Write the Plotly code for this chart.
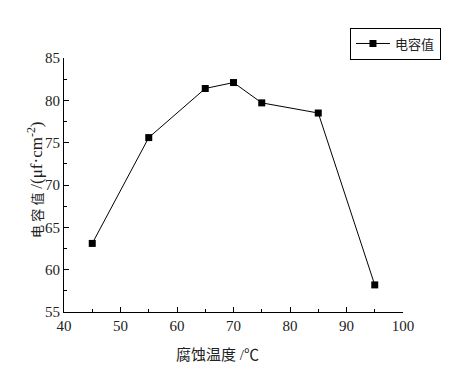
import plotly.graph_objects as go

temps = [45, 55, 65, 70, 75, 85, 95]
capacitance = [63.1, 75.6, 81.4, 82.1, 79.7, 78.5, 58.2]
x_ticks = [40, 50, 60, 70, 80, 90, 100]
y_ticks = [55, 60, 65, 70, 75, 80, 85]
x_title = "腐蚀温度 /℃"
y_title = ("<span style='font-size:13px'>电 容 值</span>"
           " <span style='font-size:17px'>/(μf·cm<sup>-2</sup>)</span>")

font_fam = "Liberation Serif, Times New Roman, Noto Sans CJK SC, serif"

fig = go.Figure()
fig.add_trace(go.Scatter(
    x=temps, y=capacitance, mode="lines+markers", name="电容值",
    line=dict(color="black", width=1),
    marker=dict(symbol="square", size=7, color="black"),
))

axis_common = dict(
    showline=True, linecolor="black", linewidth=1, mirror=False,
    ticks="inside", ticklen=5, tickcolor="black", tickwidth=1,
    showgrid=False, zeroline=False,
    tickfont=dict(family=font_fam, size=15, color="#222"),
)
fig.update_xaxes(range=[40, 100], tickvals=x_ticks,
                 minor=dict(ticks="inside", ticklen=3, dtick=5, tick0=40, tickcolor="black"),
                 **axis_common)
fig.update_yaxes(range=[55, 85], tickvals=y_ticks,
                 minor=dict(ticks="inside", ticklen=3, dtick=2.5, tick0=55, tickcolor="black"),
                 **axis_common)

fig.add_annotation(text=x_title, xref="paper", yref="paper", x=0.454, y=-0.169,
                   xanchor="center", yanchor="middle", showarrow=False,
                   font=dict(family=font_fam, size=15, color="#222"))
fig.add_annotation(text=y_title, xref="paper", yref="paper", x=-0.0855, y=0.52,
                   xanchor="center", yanchor="middle", showarrow=False, textangle=-90,
                   font=dict(family=font_fam, size=15, color="#222"))

fig.update_layout(
    width=454, height=362,
    margin=dict(l=56, r=59, t=50, b=58, autoexpand=False),
    plot_bgcolor="white", paper_bgcolor="white",
    showlegend=True,
    legend=dict(x=1.112, y=1.12, xanchor="right", yanchor="top",
                bordercolor="black", borderwidth=1, bgcolor="white",
                font=dict(family=font_fam, size=13, color="#222"),
                itemwidth=34, tracegroupgap=0),
    font=dict(family=font_fam),
)

fig.write_html("out.html")
